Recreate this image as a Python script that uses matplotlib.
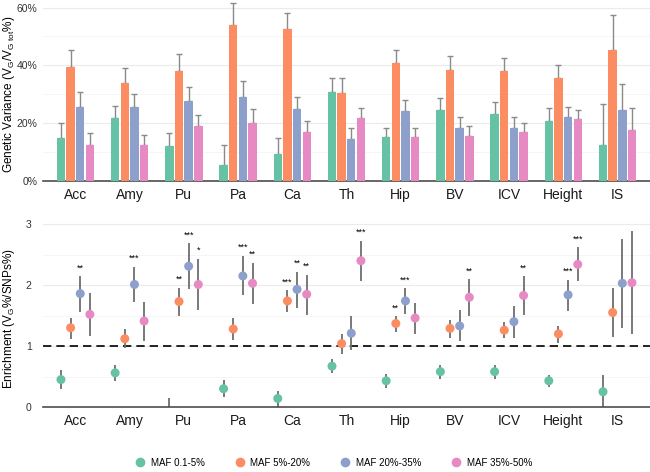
import matplotlib
matplotlib.use("Agg")
import matplotlib.pyplot as plt
import numpy as np
from matplotlib.lines import Line2D

categories = ["Acc", "Amy", "Pu", "Pa", "Ca", "Th", "Hip", "BV", "ICV", "Height", "IS"]
series_names = ["MAF 0.1-5%", "MAF 5%-20%", "MAF 20%-35%", "MAF 35%-50%"]
colors = ["#66c2a5", "#fc8d62", "#8da0cb", "#e78ac3"]

# Top panel: genetic variance (%) and upper error bound (%)
vg_green = [14.8, 21.8, 12.0, 5.4, 9.3, 30.8, 15.3, 24.6, 23.3, 20.6, 12.4]
vg_green_hi = [20.0, 26.0, 16.7, 12.6, 14.9, 35.5, 18.5, 28.7, 27.5, 25.2, 26.7]
vg_orange = [39.5, 33.8, 38.2, 54.1, 52.5, 30.6, 41.0, 38.5, 37.9, 35.6, 45.5]
vg_orange_hi = [45.4, 39.1, 43.8, 61.7, 58.0, 35.7, 45.4, 43.3, 42.5, 40.3, 57.4]
vg_blue = [25.7, 25.7, 27.8, 29.0, 24.8, 14.6, 24.3, 18.3, 18.3, 22.0, 24.7]
vg_blue_hi = [30.8, 30.1, 32.5, 34.6, 29.1, 18.5, 28.0, 22.1, 22.2, 25.5, 33.7]
vg_pink = [12.6, 12.4, 19.1, 20.2, 17.0, 21.7, 15.3, 15.7, 16.8, 21.6, 17.7]
vg_pink_hi = [16.7, 16.0, 22.9, 24.9, 20.7, 25.3, 18.4, 19.0, 20.1, 24.7, 25.2]

# Bottom panel: enrichment point estimate, lower and upper bounds
en_green = [0.45, 0.56, -0.08, 0.30, 0.14, 0.67, 0.43, 0.58, 0.58, 0.43, 0.25]
en_green_lo = [0.29, 0.43, -0.30, 0.16, 0.00, 0.55, 0.31, 0.46, 0.46, 0.32, -0.05]
en_green_hi = [0.61, 0.69, 0.15, 0.44, 0.27, 0.79, 0.54, 0.69, 0.69, 0.52, 0.53]
en_orange = [1.30, 1.12, 1.73, 1.28, 1.74, 1.04, 1.37, 1.29, 1.26, 1.20, 1.55]
en_orange_lo = [1.11, 0.96, 1.50, 1.10, 1.56, 0.87, 1.23, 1.14, 1.13, 1.05, 1.15]
en_orange_hi = [1.46, 1.28, 1.96, 1.46, 1.92, 1.20, 1.49, 1.43, 1.39, 1.33, 1.96]
en_blue = [1.86, 2.01, 2.31, 2.15, 1.93, 1.21, 1.74, 1.33, 1.40, 1.84, 2.03]
en_blue_lo = [1.56, 1.72, 1.93, 1.83, 1.63, 0.93, 1.52, 1.08, 1.14, 1.58, 1.30]
en_blue_hi = [2.15, 2.30, 2.69, 2.48, 2.22, 1.49, 1.95, 1.59, 1.66, 2.09, 2.76]
en_pink = [1.52, 1.41, 2.01, 2.03, 1.85, 2.40, 1.46, 1.80, 1.83, 2.34, 2.04]
en_pink_lo = [1.17, 1.09, 1.59, 1.69, 1.51, 2.06, 1.20, 1.50, 1.51, 2.06, 1.19]
en_pink_hi = [1.87, 1.73, 2.43, 2.37, 2.17, 2.73, 1.71, 2.10, 2.15, 2.62, 2.89]

stars_green = [""] * 11
stars_orange = ["", "", "**", "", "***", "", "**", "", "", "", ""]
stars_blue = ["**", "***", "***", "***", "**", "", "***", "", "", "***", ""]
stars_pink = ["", "", "*", "**", "**", "***", "", "**", "**", "***", ""]

vg = [vg_green, vg_orange, vg_blue, vg_pink]
vg_hi = [vg_green_hi, vg_orange_hi, vg_blue_hi, vg_pink_hi]
en = [en_green, en_orange, en_blue, en_pink]
en_lo = [en_green_lo, en_orange_lo, en_blue_lo, en_pink_lo]
en_hi = [en_green_hi, en_orange_hi, en_blue_hi, en_pink_hi]
stars = [stars_green, stars_orange, stars_blue, stars_pink]

plt.rcParams['font.family'] = ['Liberation Sans', 'DejaVu Sans']

fig = plt.figure(figsize=(6.5, 4.72), dpi=100)
ax1 = fig.add_axes([0.066, 0.6165, 0.934, 0.3815])
ax2 = fig.add_axes([0.066, 0.1377, 0.934, 0.4068])

x = np.arange(len(categories))
step = 0.178
offsets = (np.arange(4) - 1.5) * step
barw = 0.155

for i in range(4):
    vals = np.array(vg[i])
    hi = np.array(vg_hi[i])
    ax1.errorbar(x + offsets[i], vals, yerr=[np.zeros_like(vals), hi - vals],
                 fmt="none", ecolor="#8a8a8a", elinewidth=1.0, capsize=2, capthick=1.0, zorder=2)
    ax1.bar(x + offsets[i], vals, width=barw, color=colors[i], zorder=3)

ax1.set_ylim(0, 62.3)
ax1.set_xlim(-0.6, 10.6)
ax1.set_yticks([0, 20, 40, 60])
ax1.set_yticklabels(["0%", "20%", "40%", "60%"])
ax1.set_yticks([10, 30, 50], minor=True)
ax1.set_xticks(x)
ax1.set_xticklabels(categories)
ax1.set_ylabel(r'Genetic Variance (V$_\mathregular{G}$/V$_\mathregular{G\ tot}$%)', fontsize=8.5,
               va="center")
ax1.yaxis.set_label_coords(-0.056, 0.48)

for i in range(4):
    vals = np.array(en[i])
    lo = np.array(en_lo[i])
    hi = np.array(en_hi[i])
    xs = x + offsets[i]
    ax2.vlines(xs, lo, hi, color="#6e6e6e", linewidth=1.3, zorder=2)
    ax2.scatter(xs, vals, s=42, color=colors[i], zorder=3, edgecolors="none")
    for j in range(len(categories)):
        if stars[i][j]:
            ax2.text(xs[j], hi[j] + 0.06, stars[i][j], ha="center", va="bottom", fontsize=6.5)

ax2.axhline(1, color="black", linestyle=(0, (5, 3)), linewidth=1.2, zorder=1)
ax2.set_ylim(0, 3.15)
ax2.set_xlim(-0.6, 10.6)
ax2.set_yticks([0, 1, 2, 3])
ax2.set_yticks([0.5, 1.5, 2.5], minor=True)
ax2.set_xticks(x)
ax2.set_xticklabels(categories)
ax2.set_ylabel(r'Enrichment (V$_\mathregular{G}$%/SNPs%)', fontsize=8.5, va="center")
ax2.yaxis.set_label_coords(-0.056, 0.46)

for ax in (ax1, ax2):
    for s in ("top", "right", "left"):
        ax.spines[s].set_visible(False)
    ax.spines["bottom"].set_color("#4d4d4d")
    ax.spines["bottom"].set_linewidth(1.2)
    ax.grid(True, which="major", axis="y", color="#ebebeb", linewidth=0.8, zorder=0)
    ax.grid(True, which="minor", axis="y", color="#f4f4f4", linewidth=0.6, zorder=0)
    ax.set_axisbelow(True)
    ax.tick_params(axis="both", which="both", length=0)
    ax.tick_params(axis="x", labelsize=10, pad=5, labelcolor="#1a1a1a")
    ax.tick_params(axis="y", labelsize=7.5, labelcolor="#333333")
ax1.tick_params(axis="y", pad=4)
ax2.tick_params(axis="y", pad=8)

handles = [Line2D([0], [0], marker="o", linestyle="none", markersize=7,
                  markerfacecolor=c, markeredgecolor="none") for c in colors]
fig.legend(handles, series_names, loc="center", bbox_to_anchor=(0.51, 0.02), ncol=4,
           frameon=False, fontsize=7, handletextpad=0.1, columnspacing=2.6)

fig.savefig("out.png", dpi=100)
